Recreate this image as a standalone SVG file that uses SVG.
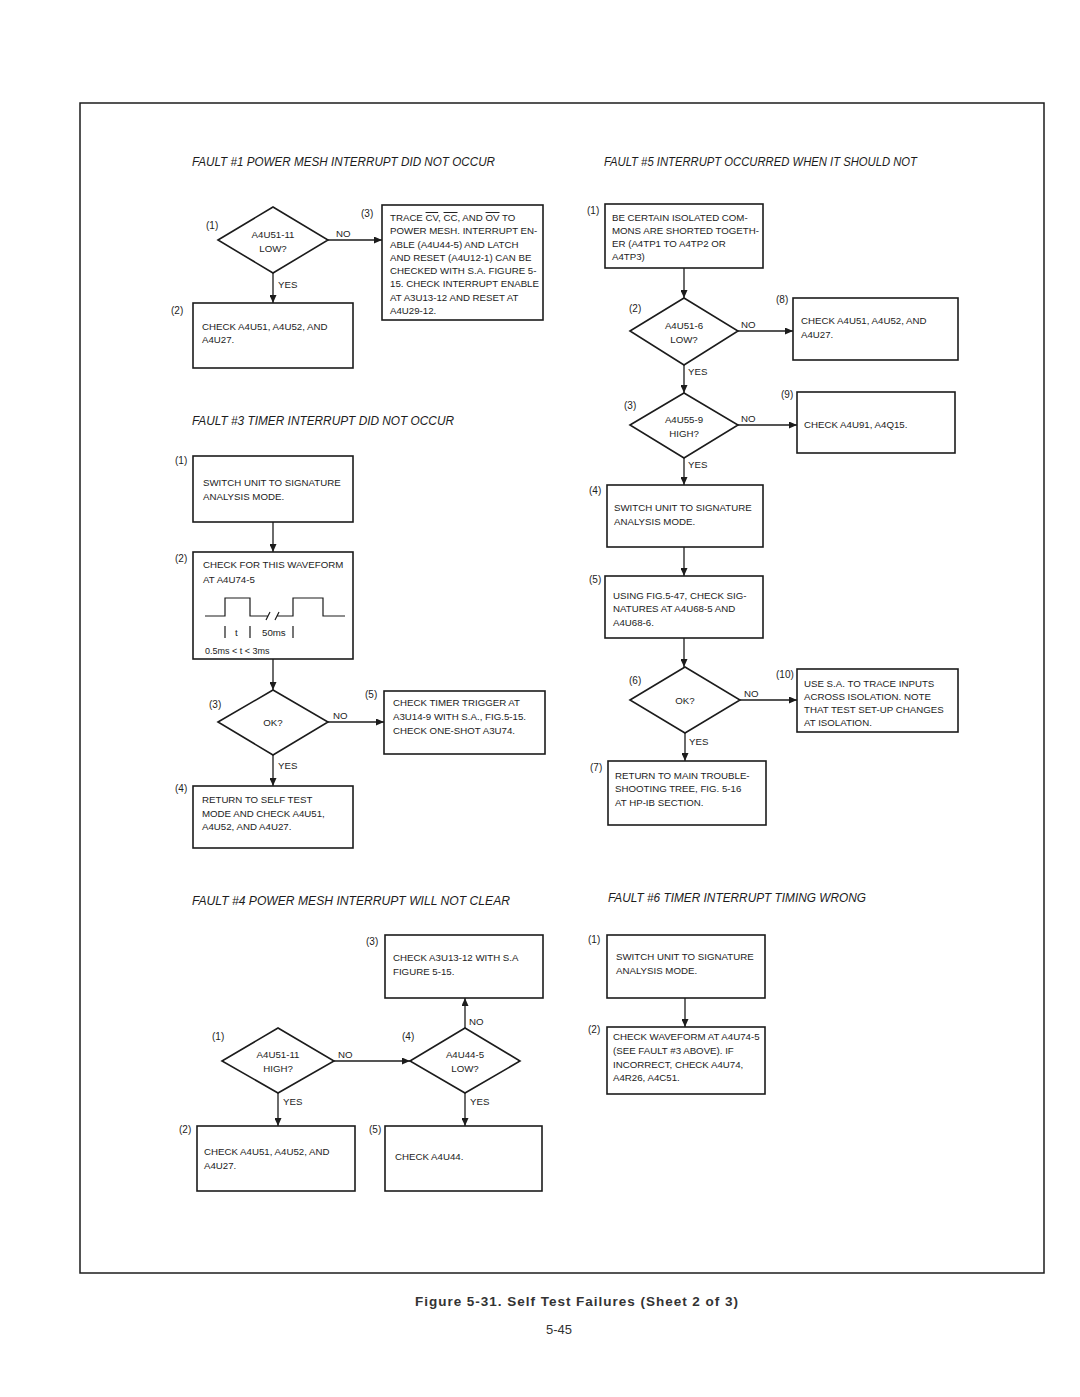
<svg xmlns="http://www.w3.org/2000/svg" width="1080" height="1397" viewBox="0 0 1080 1397">
<defs>
<marker id="ah" markerUnits="userSpaceOnUse" markerWidth="8" markerHeight="7" refX="8" refY="3.5" orient="auto">
<path d="M0,0 L8,3.5 L0,7 z" fill="#1c1c1c"/>
</marker>
<style>
text{font-family:"Liberation Sans",Arial,sans-serif;fill:#1c1c1c;font-size:9.7px}
.h{font-style:italic;font-size:13px}
.l{font-size:10px}
.c{text-anchor:middle}
.box{fill:none;stroke:#1c1c1c;stroke-width:1.6}
.cn{fill:none;stroke:#1c1c1c;stroke-width:1.3;marker-end:url(#ah)}
.ln{fill:none;stroke:#1c1c1c;stroke-width:1.2}
.ol{text-decoration:overline}
</style>
</defs>
<rect width="1080" height="1397" fill="#ffffff"/>
<rect x="80" y="103" width="964" height="1170" fill="none" stroke="#1c1c1c" stroke-width="1.5"/>

<!-- headers -->
<g id="headers">
<text class="h" x="192" y="166" textLength="303" lengthAdjust="spacingAndGlyphs">FAULT #1 POWER MESH INTERRUPT DID NOT OCCUR</text>
<text class="h" x="604" y="166" textLength="313" lengthAdjust="spacingAndGlyphs">FAULT #5 INTERRUPT OCCURRED WHEN IT SHOULD NOT</text>
<text class="h" x="192" y="425" textLength="262" lengthAdjust="spacingAndGlyphs">FAULT #3 TIMER INTERRUPT DID NOT OCCUR</text>
<text class="h" x="192" y="905" textLength="318" lengthAdjust="spacingAndGlyphs">FAULT #4 POWER MESH INTERRUPT WILL NOT CLEAR</text>
<text class="h" x="608" y="902" textLength="258" lengthAdjust="spacingAndGlyphs">FAULT #6 TIMER INTERRUPT TIMING WRONG</text>
</g>

<!-- FAULT 1 -->
<g id="f1-n1">
<polygon class="box" points="218,240 273,207 328,240 273,273"/>
<text class="l" x="206" y="229">(1)</text>
<text class="c" x="273" y="238">A4U51-11</text>
<text class="c" x="273" y="252">LOW?</text>
</g>
<g id="f1-n3">
<rect class="box" x="382" y="205" width="161" height="115"/>
<text class="l" x="361" y="217">(3)</text>
<text x="390" y="221">TRACE <tspan class="ol">CV</tspan>, <tspan class="ol">CC</tspan>, AND <tspan class="ol">OV</tspan> TO</text>
<text x="390" y="234">POWER MESH. INTERRUPT EN-</text>
<text x="390" y="247.5">ABLE (A4U44-5) AND LATCH</text>
<text x="390" y="260.5">AND RESET (A4U12-1) CAN BE</text>
<text x="390" y="274">CHECKED WITH S.A. FIGURE 5-</text>
<text x="390" y="287">15. CHECK INTERRUPT ENABLE</text>
<text x="390" y="300.5">AT A3U13-12 AND RESET AT</text>
<text x="390" y="313.5">A4U29-12.</text>
</g>
<g id="f1-n2">
<rect class="box" x="193" y="303" width="160" height="65"/>
<text class="l" x="171" y="314">(2)</text>
<text x="202" y="330">CHECK A4U51, A4U52, AND</text>
<text x="202" y="343">A4U27.</text>
</g>

<!-- FAULT 3 -->
<g id="f3-n1">
<rect class="box" x="193" y="456" width="160" height="66"/>
<text class="l" x="175" y="464">(1)</text>
<text x="203" y="486">SWITCH UNIT TO SIGNATURE</text>
<text x="203" y="500">ANALYSIS MODE.</text>
</g>
<g id="f3-n2">
<rect class="box" x="193" y="552" width="160" height="107"/>
<text class="l" x="175" y="562">(2)</text>
<text x="203" y="568">CHECK FOR THIS WAVEFORM</text>
<text x="203" y="583">AT A4U74-5</text>
<path class="ln" d="M205,616 H225 V598 H250 V616 H268 M266,620 L270,612 M275,620 L279,612 M277,616 H293 V598 H323 V616 H345"/>
<path class="ln" d="M225,626 V638 M250,626 V638 M293,626 V638"/>
<text x="235" y="636">t</text>
<text x="262" y="636">50ms</text>
<text x="205" y="654" style="font-size:9px">0.5ms &lt; t &lt; 3ms</text>
</g>
<g id="f3-n3">
<polygon class="box" points="218,722 273,690 328,722 273,755"/>
<text class="l" x="209" y="708">(3)</text>
<text class="c" x="273" y="726">OK?</text>
</g>
<g id="f3-n5">
<rect class="box" x="384" y="691" width="161" height="63"/>
<text class="l" x="365" y="698">(5)</text>
<text x="393" y="706">CHECK TIMER TRIGGER AT</text>
<text x="393" y="720">A3U14-9 WITH S.A., FIG.5-15.</text>
<text x="393" y="734">CHECK ONE-SHOT A3U74.</text>
</g>
<g id="f3-n4">
<rect class="box" x="193" y="786" width="160" height="62"/>
<text class="l" x="175" y="792">(4)</text>
<text x="202" y="803">RETURN TO SELF TEST</text>
<text x="202" y="817">MODE AND CHECK A4U51,</text>
<text x="202" y="830">A4U52, AND A4U27.</text>
</g>

<!-- FAULT 4 -->
<g id="f4-n3">
<rect class="box" x="385" y="935" width="158" height="63"/>
<text class="l" x="366" y="945">(3)</text>
<text x="393" y="961">CHECK A3U13-12 WITH S.A</text>
<text x="393" y="975">FIGURE 5-15.</text>
</g>
<g id="f4-n1">
<polygon class="box" points="222,1061 278,1028 334,1061 278,1093"/>
<text class="l" x="212" y="1040">(1)</text>
<text class="c" x="278" y="1058">A4U51-11</text>
<text class="c" x="278" y="1072">HIGH?</text>
</g>
<g id="f4-n4">
<polygon class="box" points="410,1061 465,1028 520,1061 465,1093"/>
<text class="l" x="402" y="1040">(4)</text>
<text class="c" x="465" y="1058">A4U44-5</text>
<text class="c" x="465" y="1072">LOW?</text>
</g>
<g id="f4-n2">
<rect class="box" x="197" y="1126" width="158" height="65"/>
<text class="l" x="179" y="1133">(2)</text>
<text x="204" y="1155">CHECK A4U51, A4U52, AND</text>
<text x="204" y="1169">A4U27.</text>
</g>
<g id="f4-n5">
<rect class="box" x="385" y="1126" width="157" height="65"/>
<text class="l" x="369" y="1133">(5)</text>
<text x="395" y="1160">CHECK A4U44.</text>
</g>

<!-- FAULT 5 -->
<g id="f5-n1">
<rect class="box" x="605" y="204" width="158" height="64"/>
<text class="l" x="587" y="214">(1)</text>
<text x="612" y="221">BE CERTAIN ISOLATED COM-</text>
<text x="612" y="234">MONS ARE SHORTED TOGETH-</text>
<text x="612" y="247">ER (A4TP1 TO A4TP2 OR</text>
<text x="612" y="260">A4TP3)</text>
</g>
<g id="f5-n2">
<polygon class="box" points="630,331 684,298 738,331 684,365"/>
<text class="l" x="629" y="312">(2)</text>
<text class="c" x="684" y="329">A4U51-6</text>
<text class="c" x="684" y="343">LOW?</text>
</g>
<g id="f5-n8">
<rect class="box" x="793" y="298" width="165" height="62"/>
<text class="l" x="776" y="303">(8)</text>
<text x="801" y="324">CHECK A4U51, A4U52, AND</text>
<text x="801" y="338">A4U27.</text>
</g>
<g id="f5-n3">
<polygon class="box" points="630,425 684,393 738,425 684,458"/>
<text class="l" x="624" y="409">(3)</text>
<text class="c" x="684" y="423">A4U55-9</text>
<text class="c" x="684" y="437">HIGH?</text>
</g>
<g id="f5-n9">
<rect class="box" x="797" y="392" width="158" height="61"/>
<text class="l" x="781" y="398">(9)</text>
<text x="804" y="428">CHECK A4U91, A4Q15.</text>
</g>
<g id="f5-n4">
<rect class="box" x="607" y="485" width="156" height="62"/>
<text class="l" x="589" y="494">(4)</text>
<text x="614" y="511">SWITCH UNIT TO SIGNATURE</text>
<text x="614" y="525">ANALYSIS MODE.</text>
</g>
<g id="f5-n5">
<rect class="box" x="605" y="576" width="158" height="62"/>
<text class="l" x="589" y="583">(5)</text>
<text x="613" y="599">USING FIG.5-47, CHECK SIG-</text>
<text x="613" y="612">NATURES AT A4U68-5 AND</text>
<text x="613" y="626">A4U68-6.</text>
</g>
<g id="f5-n6">
<polygon class="box" points="630,700 685,667 740,700 685,733"/>
<text class="l" x="629" y="684">(6)</text>
<text class="c" x="685" y="704">OK?</text>
</g>
<g id="f5-n10">
<rect class="box" x="797" y="669" width="161" height="63"/>
<text class="l" x="776" y="678">(10)</text>
<text x="804" y="687">USE S.A. TO TRACE INPUTS</text>
<text x="804" y="700">ACROSS ISOLATION. NOTE</text>
<text x="804" y="713">THAT TEST SET-UP CHANGES</text>
<text x="804" y="726">AT ISOLATION.</text>
</g>
<g id="f5-n7">
<rect class="box" x="608" y="761" width="158" height="64"/>
<text class="l" x="590" y="771">(7)</text>
<text x="615" y="779">RETURN TO MAIN TROUBLE-</text>
<text x="615" y="792">SHOOTING TREE, FIG. 5-16</text>
<text x="615" y="806">AT HP-IB SECTION.</text>
</g>

<!-- FAULT 6 -->
<g id="f6-n1">
<rect class="box" x="607" y="935" width="158" height="63"/>
<text class="l" x="588" y="943">(1)</text>
<text x="616" y="960">SWITCH UNIT TO SIGNATURE</text>
<text x="616" y="974">ANALYSIS MODE.</text>
</g>
<g id="f6-n2">
<rect class="box" x="607" y="1027" width="158" height="67"/>
<text class="l" x="588" y="1033">(2)</text>
<text x="613" y="1040">CHECK WAVEFORM AT A4U74-5</text>
<text x="613" y="1054">(SEE FAULT #3 ABOVE). IF</text>
<text x="613" y="1068">INCORRECT, CHECK A4U74,</text>
<text x="613" y="1081">A4R26, A4C51.</text>
</g>

<!-- connectors -->
<g id="connectors">
<path class="cn" d="M328,240 H382"/>
<text x="336" y="237">NO</text>
<path class="cn" d="M273,273 V303"/>
<text x="278" y="288">YES</text>

<path class="cn" d="M273,522 V552"/>
<path class="cn" d="M273,659 V690"/>
<path class="cn" d="M328,722 H384"/>
<text x="333" y="719">NO</text>
<path class="cn" d="M273,755 V786"/>
<text x="278" y="769">YES</text>

<path class="cn" d="M334,1061 H410"/>
<text x="338" y="1058">NO</text>
<path class="cn" d="M465,1028 V998"/>
<text x="469" y="1025">NO</text>
<path class="cn" d="M278,1093 V1126"/>
<text x="283" y="1105">YES</text>
<path class="cn" d="M465,1093 V1126"/>
<text x="470" y="1105">YES</text>

<path class="cn" d="M684,268 V298"/>
<path class="cn" d="M738,331 H793"/>
<text x="741" y="328">NO</text>
<path class="cn" d="M684,365 V393"/>
<text x="688" y="375">YES</text>
<path class="cn" d="M738,425 H797"/>
<text x="741" y="422">NO</text>
<path class="cn" d="M684,458 V485"/>
<text x="688" y="468">YES</text>
<path class="cn" d="M684,547 V576"/>
<path class="cn" d="M684,638 V667"/>
<path class="cn" d="M740,700 H797"/>
<text x="744" y="697">NO</text>
<path class="cn" d="M685,733 V761"/>
<text x="689" y="745">YES</text>

<path class="cn" d="M685,998 V1027"/>
</g>

<!-- caption -->
<text x="415" y="1306" style="font-size:13.5px;font-weight:bold;fill:#333" textLength="323" lengthAdjust="spacing">Figure 5-31.   Self Test Failures (Sheet 2 of 3)</text>
<text x="546" y="1334" style="font-size:13px;fill:#333">5-45</text>
</svg>
